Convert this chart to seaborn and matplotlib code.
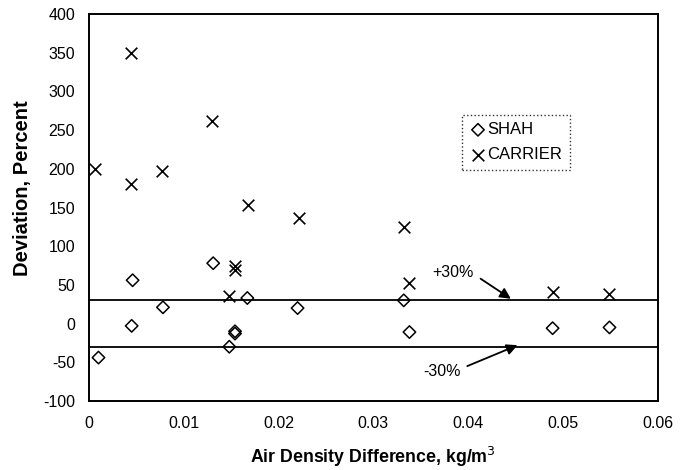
import matplotlib
matplotlib.use("Agg")
import matplotlib.pyplot as plt
import seaborn as sns
import pandas as pd

shah_x = [0.0010, 0.0046, 0.0045, 0.0078, 0.0131, 0.0167, 0.0154, 0.0154, 0.0148,
          0.0220, 0.0332, 0.0338, 0.0489, 0.0549]
shah_y = [-44, 56, -3, 21, 78, 33, -10, -13, -30, 20, 30, -11, -6, -5]

carrier_x = [0.0006, 0.0044, 0.0044, 0.0077, 0.0130, 0.0168, 0.0221, 0.0154, 0.0154,
             0.0148, 0.0332, 0.0338, 0.0489, 0.0548]
carrier_y = [200, 350, 180, 197, 262, 153, 137, 75, 69, 35, 125, 52, 41, 38]

limits = [30, -30]
x_ticks = [0, 0.01, 0.02, 0.03, 0.04, 0.05, 0.06]
x_tick_labels = ["0", "0.01", "0.02", "0.03", "0.04", "0.05", "0.06"]
y_ticks = [-100, -50, 0, 50, 100, 150, 200, 250, 300, 350, 400]

sns.set_theme(style="white")
plt.rcParams['font.family'] = ['Liberation Sans', 'DejaVu Sans']
plt.rcParams['axes.unicode_minus'] = False
plt.rcParams['text.color'] = 'black'

fig = plt.figure(figsize=(6.91, 4.70), dpi=100)
ax = fig.add_axes([0.1288, 0.147, 0.8232, 0.823])

shah = pd.DataFrame({"x": shah_x, "y": shah_y})
carrier = pd.DataFrame({"x": carrier_x, "y": carrier_y})

sns.scatterplot(data=shah, x="x", y="y", ax=ax, marker="D", s=40,
                facecolors="none", edgecolor="black", linewidth=1.1, label="SHAH")
sns.scatterplot(data=carrier, x="x", y="y", ax=ax, marker="x", s=70,
                color="black", linewidth=1.2, label="CARRIER")

for v in limits:
    ax.axhline(v, color="black", lw=1.3, zorder=1)

ax.text(0.0384, 66, "+30%", ha="center", va="center", fontsize=11.5, color="black")
ax.text(0.0372, -62, "-30%", ha="center", va="center", fontsize=11.5, color="black")
ax.annotate("", xy=(0.0445, 32), xytext=(0.0413, 58),
            arrowprops=dict(arrowstyle="-|>", color="black", lw=1.3,
                            shrinkA=0, shrinkB=0, mutation_scale=16))
ax.annotate("", xy=(0.0452, -28), xytext=(0.0399, -55),
            arrowprops=dict(arrowstyle="-|>", color="black", lw=1.3,
                            shrinkA=0, shrinkB=0, mutation_scale=16))

ax.set_xlim(0, 0.06)
ax.set_ylim(-100, 400)
ax.set_xticks(x_ticks)
ax.set_xticklabels(x_tick_labels)
ax.set_yticks(y_ticks)
ax.tick_params(axis="both", labelsize=11.5, length=0, colors="black")
ax.tick_params(axis="x", pad=11)
ax.tick_params(axis="y", pad=10)

ax.set_xlabel("Air Density Difference, kg/m$^3$", fontsize=12.8, fontweight="bold",
              labelpad=10, color="black")
ax.set_ylabel("Deviation, Percent", fontsize=14.5, fontweight="bold", color="black")
ax.yaxis.set_label_coords(-0.10, 0.549)

for s in ax.spines.values():
    s.set_color("black")
    s.set_linewidth(1.4)

leg = ax.legend(loc="upper left", bbox_to_anchor=(0.656, 0.74), frameon=True,
                fancybox=False, fontsize=12, handletextpad=0.05, borderpad=0.45,
                handlelength=1.0, labelspacing=0.6, borderaxespad=0)
leg.get_frame().set_edgecolor("black")
leg.get_frame().set_linestyle(":")
leg.get_frame().set_linewidth(1.0)
for t in leg.get_texts():
    t.set_color("black")

fig.savefig("out.png", dpi=100)
